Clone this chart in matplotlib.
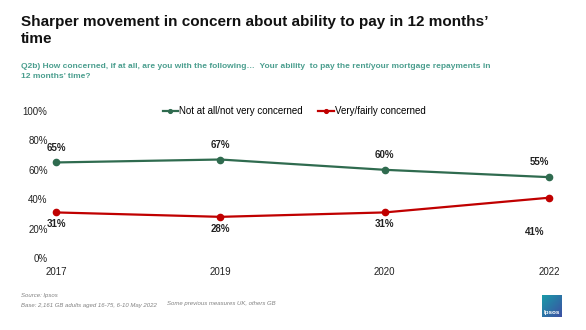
import matplotlib.pyplot as plt
import numpy as np
from matplotlib.colors import LinearSegmentedColormap

years = ['2017', '2019', '2020', '2022']
not_concerned = [65, 67, 60, 55]
concerned = [31, 28, 31, 41]
y_ticks = [0, 20, 40, 60, 80, 100]

green = '#2f6b4f'
red = '#c00000'
teal = '#4a9e8e'

plt.rcParams['font.family'] = ['Liberation Sans', 'DejaVu Sans']

fig = plt.figure(figsize=(5.86, 3.30), dpi=100)
ax = fig.add_axes([56 / 586, 1 - 258 / 330, 493 / 586, 147 / 330])

x = np.arange(len(years))
ax.plot(x, not_concerned, color=green, lw=1.6, marker='o', ms=4.5,
        label='Not at all/not very concerned', clip_on=False)
ax.plot(x, concerned, color=red, lw=1.6, marker='o', ms=4.5,
        label='Very/fairly concerned', clip_on=False)

# value labels: green above, red below
for i, v in enumerate(not_concerned):
    dx = -7 if i == len(years) - 1 else 0
    ax.annotate(f'{v}%', (i, v), xytext=(dx, 7), textcoords='offset points',
                ha='center', va='bottom', fontsize=7, fontweight='bold',
                color='#222222')
for i, v in enumerate(concerned):
    dx, dy = (-10, -21) if i == len(years) - 1 else (0, -5)
    ax.annotate(f'{v}%', (i, v), xytext=(dx, dy), textcoords='offset points',
                ha='center', va='top', fontsize=7, fontweight='bold',
                color='#222222')

ax.set_xlim(0, 3)
ax.set_ylim(0, 100)
ax.set_yticks(y_ticks)
ax.set_yticklabels([f'{t}%' for t in y_ticks])
ax.set_xticks(x)
ax.set_xticklabels(years)
ax.tick_params(axis='both', length=0, labelsize=7, colors='#222222')
ax.tick_params(axis='y', pad=6)
ax.tick_params(axis='x', pad=6.5)
for s in ax.spines.values():
    s.set_visible(False)

leg = ax.legend(loc='center', ncol=2, frameon=False, fontsize=7,
                handlelength=1.6, handletextpad=0.1,
                columnspacing=1.6, markerscale=0.6)
leg.set_bbox_to_anchor((294 / 586, 1 - 111 / 330), transform=fig.transFigure)

fig.text(21 / 586, 1 - 15 / 330,
         'Sharper movement in concern about ability to pay in 12 months\u2019\ntime',
         fontsize=11, fontweight='bold', va='top', ha='left',
         color='#111111', linespacing=1.3)
fig.text(21 / 586, 1 - 63 / 330,
         'Q2b) How concerned, if at all, are you with the following\u2026  Your ability  '
         'to pay the rent/your mortgage repayments in\n12 months\u2019 time?',
         fontsize=6, fontweight='bold', va='top', ha='left', color=teal,
         linespacing=1.5)

fig.text(21 / 586, 1 - 296 / 330, 'Source: Ipsos', fontsize=4.3,
         style='italic', color='#808080', va='center')
fig.text(21 / 586, 1 - 305 / 330, 'Base: 2,161 GB adults aged 16-75, 6-10 May 2022',
         fontsize=4.3, style='italic', color='#808080', va='center')
fig.text(167 / 586, 1 - 304 / 330, 'Some previous measures UK, others GB',
         fontsize=4.3, style='italic', color='#808080', va='center')

# Ipsos logo
logo = fig.add_axes([542 / 586, 1 - 317 / 330, 20 / 586, 22 / 330])
logo.axis('off')
grad = np.linspace(0, 1, 50)
img = np.outer(grad, np.ones(50)) * 0.5 + np.outer(np.ones(50), grad) * 0.5
logo.imshow(img, cmap=LinearSegmentedColormap.from_list(
    'ip', ['#1a9aa8', '#3d4fa3']), extent=(0, 1, 0, 1), aspect='auto')
logo.text(0.5, 0.2, 'Ipsos', color='white', fontsize=4.5, ha='center',
          va='center', fontweight='bold')
logo.set_xlim(0, 1)
logo.set_ylim(0, 1)

fig.savefig('out.png', dpi=100)
